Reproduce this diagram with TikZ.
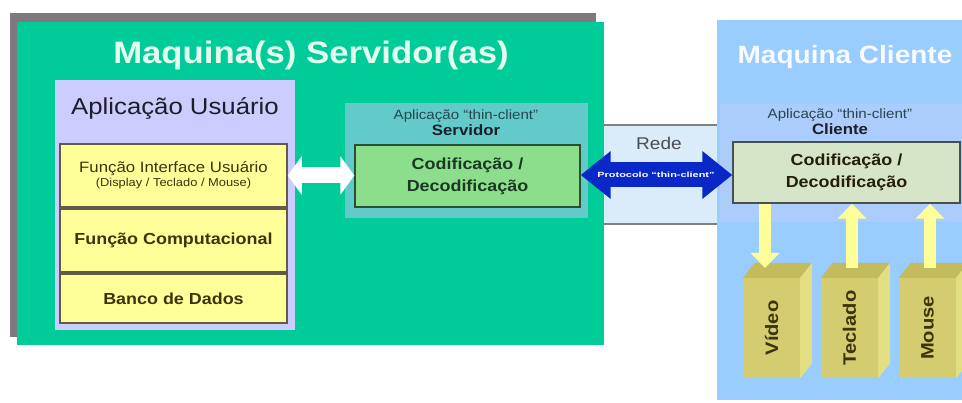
\documentclass[tikz,border=0pt]{standalone}
\usepackage{fontspec}
\setmainfont{Liberation Sans}[FakeStretch=1.12]
\usetikzlibrary{arrows.meta}

% palette
\definecolor{srvgreen}{RGB}{0,204,153}
\definecolor{srvshadow}{RGB}{128,120,128}
\definecolor{srvtitle}{RGB}{228,252,238}
\definecolor{apppurple}{RGB}{204,204,255}
\definecolor{funcyellow}{RGB}{255,255,153}
\definecolor{funcborder}{RGB}{96,92,72}
\definecolor{tealbox}{RGB}{98,202,200}
\definecolor{codgreen}{RGB}{140,222,140}
\definecolor{codborder}{RGB}{40,80,50}
\definecolor{clientblue}{RGB}{153,204,255}
\definecolor{clientband}{RGB}{172,204,252}
\definecolor{clicodfill}{RGB}{214,228,200}
\definecolor{clicodborder}{RGB}{70,80,80}
\definecolor{redeband}{RGB}{218,236,250}
\definecolor{protoblue}{RGB}{10,40,200}
\definecolor{ioarrow}{RGB}{255,255,153}
\definecolor{devfront}{RGB}{212,204,110}
\definecolor{devtop}{RGB}{196,188,92}
\definecolor{devside}{RGB}{228,222,130}
\definecolor{darktext}{RGB}{30,30,40}
\definecolor{olivetext}{RGB}{60,52,10}
\definecolor{captiontext}{RGB}{40,70,80}

\tikzset{
  funcbox/.style={draw=funcborder, line width=1.6pt, fill=funcyellow,
    minimum width=227pt, inner sep=0pt, align=center, text=olivetext},
  codbox/.style={minimum width=225pt, minimum height=62pt, inner sep=0pt,
    align=center, line width=1.4pt},
  device/.style={fill=devfront, minimum width=57pt, minimum height=100pt,
    inner sep=0pt, text=olivetext, font=\fontsize{18}{18}\selectfont\bfseries},
  ioline/.style={draw=ioarrow, line width=12pt,
    -{Triangle[length=15pt,width=28pt]}},
}

% box drawn as a block: front node plus top and right faces
\newcommand{\deviceblock}[3]{%
  \node[device] (#1) at (#2) {\rotatebox{90}{#3}};
  \fill[devtop] (#1.north west) -- ([shift={(12,-15)}]#1.north west)
    -- ([shift={(12,-15)}]#1.north east) -- (#1.north east) -- cycle;
  \fill[devside] (#1.north east) -- ([shift={(12,-15)}]#1.north east)
    -- ([shift={(12,-15)}]#1.south east) -- (#1.south east) -- cycle;
}

\begin{document}
\begin{tikzpicture}[x=1pt, y=-1pt]
\useasboundingbox (0,0) rectangle (962,403);

% ---------------- client machine ----------------
\fill[clientblue] (717,20) rectangle (975,400);
\fill[clientband] (720,104) rectangle (975,222);
\node[font=\fontsize{25}{25}\selectfont\bfseries, text=white!92!clientblue]
  (clititle) at (845,57) {Maquina Cliente};
\node[align=center, inner sep=0pt, text=captiontext] (clicap) at (840,122)
  {{\fontsize{13.5}{15}\selectfont Aplicação “thin-client”}\\[1pt]
   {\fontsize{15}{15}\selectfont\bfseries\color{darktext}Cliente}};
\node[codbox, draw=clicodborder, fill=clicodfill, minimum width=227pt,
  minimum height=61pt, text=olivetext!60!black,
  font=\fontsize{16}{22}\selectfont\bfseries] (clicod) at (846.5,172.5)
  {Codificação /\\Decodificação};

% ---------------- network band ----------------
\fill[redeband] (603,125) rectangle (717,224);
\draw[gray, line width=1.5pt] (603,125) -- (717,125)
  (603,224) -- (717,224);
\node[font=\fontsize{17}{17}\selectfont, text=darktext!80] (rede)
  at (659,143) {Rede};

% ---------------- server machine ----------------
\fill[srvshadow] (10,13) rectangle (596,337);
\fill[srvgreen] (17,22) rectangle (604,345);
\node[font=\fontsize{31}{31}\selectfont\bfseries, text=srvtitle] (srvtitle)
  at (311,55) {Maquina(s) Servidor(as)};

% user application
\fill[apppurple] (55,80) rectangle (295,330);
\node[font=\fontsize{23}{23}\selectfont, text=darktext] (apptitle)
  at (175,108) {Aplicação Usuário};
\node[funcbox, minimum height=63pt] (ui) at (173.5,175.5)
  {{\fontsize{15}{17}\selectfont Função Interface Usuário}\\[2pt]
   {\fontsize{11.5}{13}\selectfont(Display / Teclado / Mouse)}};
\node[funcbox, minimum height=63pt, font=\fontsize{16}{16}\selectfont\bfseries]
  (comp) at (173.5,240.5) {Função Computacional};
\node[funcbox, minimum height=49pt, font=\fontsize{16}{16}\selectfont\bfseries]
  (db) at (173.5,298.5) {Banco de Dados};

% thin-client server application
\fill[tealbox] (345,103) rectangle (588,218);
\node[align=center, inner sep=0pt, text=captiontext] (srvcap) at (466,123)
  {{\fontsize{13.5}{15}\selectfont Aplicação “thin-client”}\\[1pt]
   {\fontsize{15}{15}\selectfont\bfseries\color{darktext}Servidor}};
\node[codbox, draw=codborder, fill=codgreen, text=codborder!70!black,
  font=\fontsize{16}{22}\selectfont\bfseries] (srvcod) at (467.5,176)
  {Codificação /\\Decodificação};

% ---------------- connectors ----------------
\draw[white, line width=16pt,
  {Triangle[length=14pt,width=38pt]}-{Triangle[length=14pt,width=38pt]}]
  (ui.east) -- (ui.east -| srvcod.west);

\draw[protoblue, line width=25pt,
  {Triangle[length=30pt,width=46pt]}-{Triangle[length=30pt,width=46pt]}]
  (srvcod.east |- 0,175) -- (clicod.west |- 0,175);
\node[text=white, inner sep=0pt] (proto) at (656,175)
  {\scalebox{1.3}[1]{\fontsize{7.5}{8}\selectfont\bfseries Protocolo “thin-client”}};

% ---------------- client devices ----------------
\deviceblock{video}{771.5,328}{Vídeo}
\deviceblock{teclado}{849.5,328}{Teclado}
\deviceblock{mouse}{927.5,328}{Mouse}

\coordinate (vidin) at (765,268);
\coordinate (tecout) at (852,268);
\coordinate (mouout) at (930,268);
\draw[ioline] (vidin |- clicod.south) -- (vidin);
\draw[ioline] (tecout) -- (tecout |- clicod.south);
\draw[ioline] (mouout) -- (mouout |- clicod.south);
\end{tikzpicture}
\end{document}
